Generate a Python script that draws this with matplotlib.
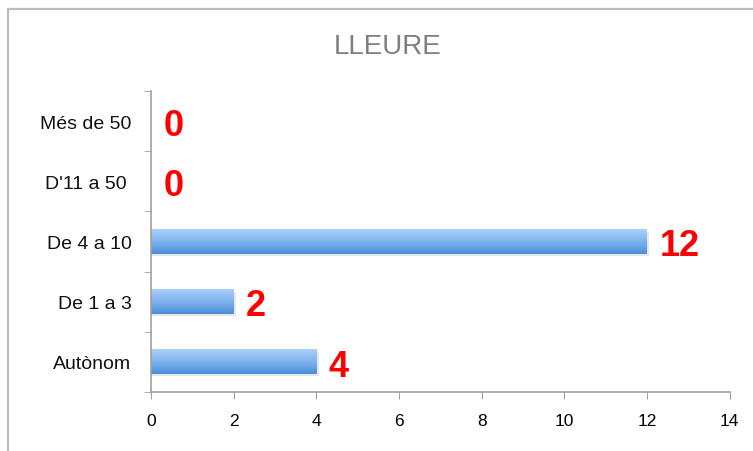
import matplotlib.pyplot as plt
import numpy as np
from matplotlib.patches import Rectangle
from matplotlib.colors import LinearSegmentedColormap

# data (bottom to top)
categories = ["Autònom", "De 1 a 3", "De 4 a 10", "D'11 a 50 ", "Més de 50"]
values = [4, 2, 12, 0, 0]
xticks = [0, 2, 4, 6, 8, 10, 12, 14]

plt.rcParams['font.family'] = ['Liberation Sans', 'DejaVu Sans']

fig = plt.figure(figsize=(7.53, 4.52), dpi=100)
ax = fig.add_axes([0.2005, 0.1305, 0.7683, 0.666])

# outer frame of the original chart
fig.patches.append(Rectangle((8 / 753, -0.1), 1.2, 1 - 10 / 452 + 0.1,
                             transform=fig.transFigure, fill=False,
                             edgecolor='#bdbdbd', linewidth=1.6))

y = np.arange(len(categories))
bar_h = 0.4
grad = LinearSegmentedColormap.from_list('bargrad', ['#4a8fd9', '#7fb3ee', '#a9d0f8'])
g = np.linspace(0, 1, 64).reshape(-1, 1)

for yi, v in zip(y, values):
    if v <= 0:
        continue
    # soft shadow
    ax.add_patch(Rectangle((0, yi - bar_h / 2 - 0.04), v + 0.06, bar_h,
                           facecolor='#bbbbbb', alpha=0.35, edgecolor='none', zorder=1))
    ax.imshow(g, cmap=grad, aspect='auto', origin='lower',
              extent=(0, v, yi - bar_h / 2, yi + bar_h / 2), zorder=2)

for yi, v in zip(y, values):
    ax.annotate(str(v), (v, yi), xytext=(9, -3), textcoords='offset points',
                ha='left', va='center', color='#ff0000', fontsize=26,
                fontweight='bold')

ax.set_xlim(0, 14)
ax.set_ylim(-0.5, len(categories) - 0.5)
ax.set_xticks(xticks)
ax.set_xticklabels([str(t) for t in xticks], fontsize=12.5)
ax.set_yticks(y)
ax.set_yticklabels(categories, fontsize=14, color='#111111')
ax.set_yticks(np.arange(-0.5, len(categories)), minor=True)
ax.tick_params(axis='y', which='major', length=0, pad=14)
ax.tick_params(axis='y', which='minor', length=5, color='#a0a0a0', direction='out')
ax.tick_params(axis='x', length=5, color='#a0a0a0', pad=10)

for s in ['top', 'right']:
    ax.spines[s].set_visible(False)
for s in ['left', 'bottom']:
    ax.spines[s].set_color('#a0a0a0')
    ax.spines[s].set_linewidth(1.2)

fig.text(0.515, 1 - 47 / 452, "LLEURE", ha='center', va='center',
         fontsize=20, color='#7f7f7f')

fig.savefig('out.png', dpi=100)
